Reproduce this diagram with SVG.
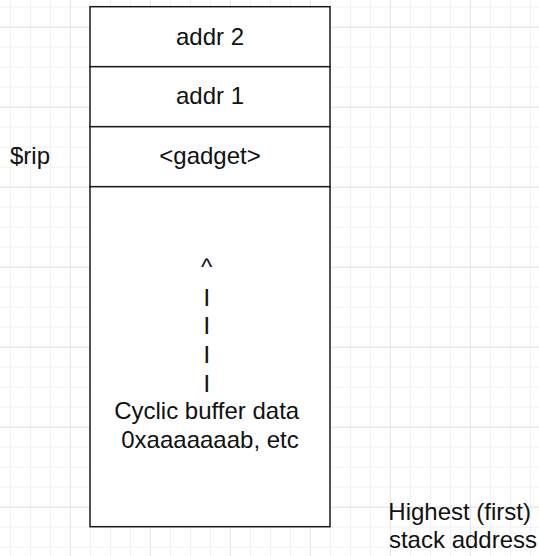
<svg xmlns="http://www.w3.org/2000/svg" width="539" height="556" viewBox="0 0 539 556">
  <style>
    .cell { fill: #ffffff; stroke: #1a1a1a; stroke-width: 1.5; }
    .t { font-family: "Liberation Sans", Arial, Helvetica, sans-serif; font-size: 24px; fill: #111111; text-anchor: middle; }
    .bar { font-size: 18px; font-weight: bold; }
  </style>
  <defs>
    <pattern id="minor" patternUnits="userSpaceOnUse" x="10" y="6.7" width="20" height="20">
      <path d="M0 0.5 H20 M0.5 0 V20" stroke="#f1f1f1" stroke-width="1" fill="none"/>
    </pattern>
    <pattern id="major" patternUnits="userSpaceOnUse" x="70" y="26.7" width="80" height="80">
      <path d="M0 0.5 H80 M0.5 0 V80" stroke="#e4e4e4" stroke-width="1" fill="none"/>
    </pattern>
  </defs>
  <rect x="0" y="0" width="539" height="556" fill="#ffffff"/>
  <rect x="0" y="0" width="539" height="556" fill="url(#minor)"/>
  <rect x="0" y="0" width="539" height="556" fill="url(#major)"/>

  <g id="connectors"/>

  <g id="node-addr2">
    <rect class="cell" x="90" y="6.7" width="240" height="60"/>
    <text class="t" x="210" y="44.5">addr 2</text>
  </g>
  <g id="node-addr1">
    <rect class="cell" x="90" y="66.7" width="240" height="60"/>
    <text class="t" x="210" y="104">addr 1</text>
  </g>
  <g id="node-gadget">
    <rect class="cell" x="90" y="126.7" width="240" height="60"/>
    <text class="t" x="210" y="164">&lt;gadget&gt;</text>
  </g>
  <g id="node-buffer">
    <rect class="cell" x="90" y="186.7" width="240" height="340"/>
    <text class="t" x="210">
      <tspan x="210" y="275.2">^</tspan>
      <tspan class="bar" x="210" y="301.5">|</tspan>
      <tspan class="bar" x="210" y="330.3">|</tspan>
      <tspan class="bar" x="210" y="359.1">|</tspan>
      <tspan class="bar" x="210" y="387.9">|</tspan>
      <tspan x="210" y="419.2">Cyclic buffer data</tspan>
      <tspan x="210" y="448">0xaaaaaaab, etc</tspan>
    </text>
  </g>
  <g id="label-rip">
    <text class="t" x="30" y="163.5">$rip</text>
  </g>
  <g id="label-highest">
    <text class="t" x="463">
      <tspan x="463" y="519.5">Highest (first)</tspan>
      <tspan x="463" y="548.3">stack address</tspan>
    </text>
  </g>
</svg>
